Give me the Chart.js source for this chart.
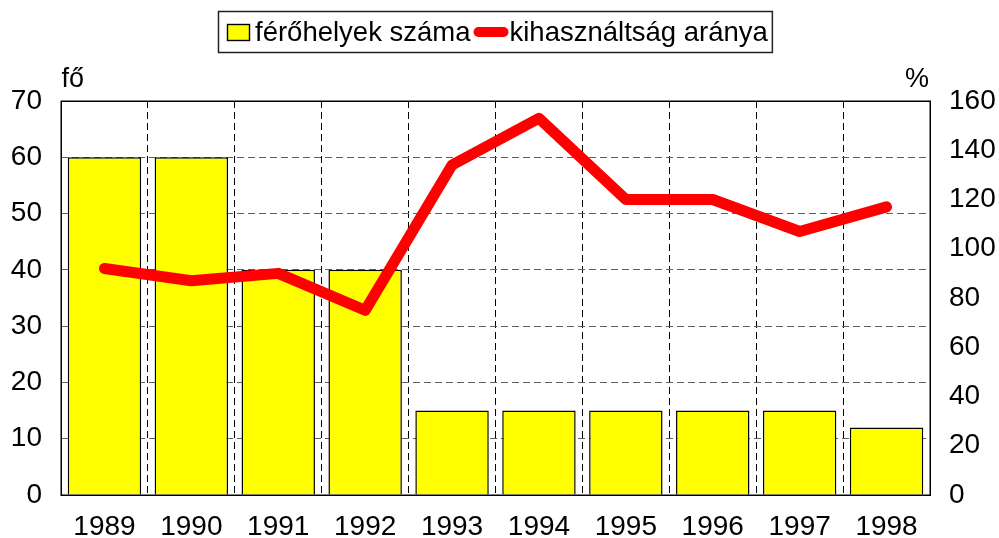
<!DOCTYPE html>
<html>
<head>
<meta charset="utf-8">
<script src="https://cdn.jsdelivr.net/npm/chart.js@4.4.1/dist/chart.umd.min.js"></script>
<style>
  html, body { margin: 0; padding: 0; background: #ffffff; }
  #wrap { width: 999px; height: 538px; }
</style>
</head>
<body>
<div id="wrap"><canvas id="c" width="999" height="538"></canvas></div>
<script>
const years = ['1989','1990','1991','1992','1993','1994','1995','1996','1997','1998'];
const places = [60, 60, 40, 40, 15, 15, 15, 15, 15, 12];
const usage = [92, 87, 90, 75, 134, 153, 120, 120, 107, 117];
const leftTicks = [0, 10, 20, 30, 40, 50, 60, 70];
const rightTicks = [0, 20, 40, 60, 80, 100, 120, 140, 160];
const seriesNames = ['férőhelyek száma', 'kihasználtság aránya'];
const axisTitles = ['fő', '%'];

const FONT = "'Liberation Sans', Arial, sans-serif";

const frameAndLegend = {
  id: 'frameAndLegend',
  afterDatasetsDraw(chart) {
    const ctx = chart.ctx;
    const a = chart.chartArea;
    ctx.save();
    ctx.strokeStyle = '#000';
    ctx.lineWidth = 1.5;
    ctx.strokeRect(Math.round(a.left) + 0.25, Math.round(a.top) + 0.25, Math.round(a.right - a.left), Math.round(a.bottom - a.top));
    ctx.restore();
  },
  afterDraw(chart) {
    const ctx = chart.ctx;
    const a = chart.chartArea;
    ctx.save();
    // axis titles
    ctx.fillStyle = '#000';
    ctx.font = '27px ' + FONT;
    ctx.textBaseline = 'alphabetic';
    ctx.textAlign = 'left';
    ctx.fillText(axisTitles[0], a.left + 0.5, 87);
    ctx.textAlign = 'right';
    ctx.fillText(axisTitles[1], a.right - 1, 87);

    // legend
    ctx.font = '27.5px ' + FONT;
    ctx.textAlign = 'left';
    const boxL = 218, boxT = 11.5, boxH = 41;
    let x = boxL + 9;
    // yellow square
    ctx.fillStyle = '#ffff00';
    ctx.fillRect(x, 24, 22, 16);
    ctx.strokeStyle = '#000';
    ctx.lineWidth = 1.4;
    ctx.strokeRect(x + 0.5, 24.5, 22, 16);
    x += 22 + 6;
    ctx.fillStyle = '#000';
    ctx.fillText(seriesNames[0], x, 41);
    x += ctx.measureText(seriesNames[0]).width + 3;
    // red line sample
    ctx.strokeStyle = '#ff0000';
    ctx.lineWidth = 10;
    ctx.lineCap = 'round';
    ctx.beginPath();
    ctx.moveTo(x + 5, 32);
    ctx.lineTo(x + 30, 32);
    ctx.stroke();
    x += 36;
    ctx.fillStyle = '#000';
    ctx.fillText(seriesNames[1], x, 41);
    x += ctx.measureText(seriesNames[1]).width + 4;
    ctx.strokeStyle = '#222';
    ctx.lineWidth = 1.5;
    ctx.lineCap = 'butt';
    ctx.strokeRect(boxL + 0.5, boxT, x - boxL, boxH);
    ctx.restore();
  }
};

new Chart(document.getElementById('c'), {
  type: 'bar',
  data: {
    labels: years,
    datasets: [
      {
        type: 'line',
        label: seriesNames[1],
        data: usage,
        yAxisID: 'y1',
        borderColor: '#ff0000',
        backgroundColor: '#ff0000',
        borderWidth: 11,
        pointRadius: 0,
        pointHoverRadius: 0,
        borderCapStyle: 'round',
        borderJoinStyle: 'round',
        tension: 0,
        order: 0
      },
      {
        type: 'bar',
        label: seriesNames[0],
        data: places,
        yAxisID: 'y',
        backgroundColor: '#ffff00',
        borderColor: '#000000',
        borderWidth: 1.5,
        categoryPercentage: 1.0,
        barPercentage: 0.845,
        order: 1
      }
    ]
  },
  options: {
    responsive: false,
    devicePixelRatio: 1,
    animation: false,
    layout: { padding: { top: 101, left: 0, right: 0, bottom: 0 } },
    plugins: { legend: { display: false }, tooltip: { enabled: false } },
    scales: {
      x: {
        offset: true,
        grid: { display: true, color: '#000', lineWidth: 1, drawTicks: false, offset: true },
        border: { display: false, dash: [7, 4] },
        ticks: { color: '#000', font: { family: FONT, size: 28 }, padding: 15, maxRotation: 0, autoSkip: false },
        afterFit(s) { s.height = 43; }
      },
      y: {
        position: 'left',
        min: 0, max: 70,
        afterBuildTicks(s) { s.ticks = leftTicks.map(v => ({ value: v })); },
        grid: { color: '#606060', lineWidth: 1, drawTicks: false },
        border: { display: false, dash: [7, 4] },
        ticks: { color: '#000', font: { family: FONT, size: 28 }, padding: 19 },
        afterFit(s) { s.width = 61; }
      },
      y1: {
        position: 'right',
        min: 0, max: 160,
        afterBuildTicks(s) { s.ticks = rightTicks.map(v => ({ value: v })); },
        grid: { display: false, drawOnChartArea: false, drawTicks: false },
        border: { display: false },
        ticks: { color: '#000', font: { family: FONT, size: 28 }, padding: 19 },
        afterFit(s) { s.width = 69; }
      }
    }
  },
  plugins: [frameAndLegend]
});
</script>
</body>
</html>
